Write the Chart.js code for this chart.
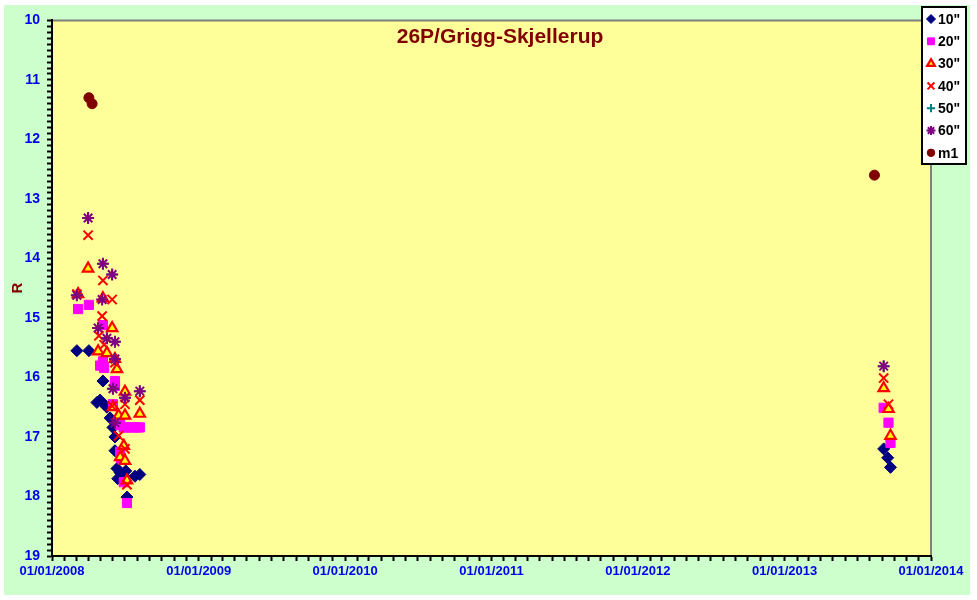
<!DOCTYPE html>
<html>
<head>
<meta charset="utf-8">
<script src="https://cdn.jsdelivr.net/npm/chart.js@4.4.0/dist/chart.umd.min.js"></script>
<style>
  html, body { margin: 0; padding: 0; background: #fff; }
  #wrap { position: absolute; left: 4px; top: 5px; width: 966px; height: 590px; background: #ccffcc; }
</style>
</head>
<body>
<div id="wrap"><canvas id="chart" width="966" height="590"></canvas></div>
<script>
// 資料（日期 / R 星等）
const d10 = ['2008-03-03','2008-04-02','2008-04-22','2008-04-30','2008-05-07','2008-05-10','2008-05-17','2008-05-25','2008-06-01','2008-06-06','2008-06-06','2008-06-11','2008-06-13','2008-06-19','2008-06-28','2008-07-03','2008-07-06','2008-07-26','2008-08-07','2013-09-05','2013-09-15','2013-09-22'];
const r10 = [15.55,15.55,16.42,16.38,16.06,16.45,16.50,16.68,16.84,17.00,17.23,17.53,17.70,17.60,17.65,17.57,18.01,17.66,17.63,17.20,17.35,17.51];

const d20 = ['2008-03-06','2008-04-02','2008-05-07','2008-04-30','2008-05-07','2008-05-10','2008-06-06','2008-06-06','2008-06-01','2008-06-19','2008-06-28','2008-07-08','2008-07-20','2008-07-31','2008-08-07','2008-06-19','2008-06-21','2008-06-28','2008-07-06','2013-09-05','2013-09-17','2013-09-22'];
const r20 = [14.85,14.78,15.12,15.80,15.73,15.84,16.06,16.14,16.45,16.80,16.84,16.84,16.84,16.84,16.84,17.25,17.36,17.76,18.11,16.51,16.76,17.10];

const d30 = ['2008-03-06','2008-03-31','2008-05-07','2008-05-30','2008-04-25','2008-05-17','2008-06-06','2008-06-11','2008-07-01','2008-06-01','2008-06-15','2008-07-01','2008-08-07','2008-06-28','2008-06-19','2008-07-01','2008-07-06','2013-09-05','2013-09-17','2013-09-22'];
const r30 = [14.60,14.17,14.67,15.17,15.56,15.59,15.69,15.86,16.24,16.50,16.64,16.64,16.61,17.15,17.34,17.40,17.73,16.18,16.53,16.98];

const d40 = ['2008-03-03','2008-03-31','2008-05-07','2008-05-30','2008-05-05','2008-04-27','2008-05-10','2008-06-06','2008-08-07','2008-07-01','2008-05-30','2008-06-15','2008-07-01','2008-07-06','2013-09-05','2013-09-17'];
const r40 = [14.60,13.61,14.37,14.69,14.97,15.30,15.45,15.75,16.38,16.45,16.48,16.98,17.20,17.80,16.01,16.45];

const d50 = ['2008-03-03','2008-03-31','2008-05-07','2008-05-30','2008-04-25','2008-05-17','2008-06-06','2008-06-01','2008-07-01','2008-08-07','2008-06-06','2013-09-05'];
const r50 = [14.62,13.32,14.09,14.27,15.17,15.34,15.40,16.19,16.34,16.23,16.76,15.81];

const d60 = ['2008-03-03','2008-03-31','2008-05-07','2008-05-30','2008-05-05','2008-04-25','2008-05-17','2008-06-06','2008-06-06','2008-06-01','2008-07-01','2008-08-07','2008-06-06','2013-09-05'];
const r60 = [14.62,13.32,14.09,14.27,14.69,15.17,15.34,15.40,15.69,16.19,16.34,16.23,16.76,15.81];

const dm1 = ['2008-04-02','2008-04-10','2013-08-13'];
const rm1 = [11.30,11.40,12.60];

const yTickValues = [10, 11, 12, 13, 14, 15, 16, 17, 18, 19];
const xStart = '2008-01-01';
const xEnd = '2014-01-01';

const pts = (dates, vals) => dates.map((d, i) => ({ x: Date.parse(d), y: vals[i] }));

const series = [
  { label: '10"', data: pts(d10, r10), pointStyle: 'rectRot', pointRadius: 6, backgroundColor: '#000080', borderColor: '#000080', borderWidth: 1 },
  { label: '20"', data: pts(d20, r20), pointStyle: 'rect', pointRadius: 6.5, backgroundColor: '#ff00ff', borderColor: '#ff00ff', borderWidth: 1 },
  { label: '30"', data: pts(d30, r30), pointStyle: 'triangle', pointRadius: 6, backgroundColor: '#ffff00', borderColor: '#ff0000', borderWidth: 2.2 },
  { label: '40"', data: pts(d40, r40), pointStyle: 'crossRot', pointRadius: 6.5, backgroundColor: '#ff0000', borderColor: '#ff0000', borderWidth: 2 },
  { label: '50"', data: pts(d50, r50), pointStyle: 'cross', pointRadius: 5.5, backgroundColor: '#008080', borderColor: '#008080', borderWidth: 2 },
  { label: '60"', data: pts(d60, r60), pointStyle: 'star', pointRadius: 6, backgroundColor: '#800080', borderColor: '#800080', borderWidth: 2 },
  { label: 'm1', data: pts(dm1, rm1), pointStyle: 'circle', pointRadius: 5, backgroundColor: '#800000', borderColor: '#800000', borderWidth: 1 }
];
// Excel 疊放順序：後面的系列畫在上面
series.forEach((s, i) => {
  s.order = series.length - 1 - i;
  s.pointHoverRadius = s.pointRadius;
  s.showLine = false;
});

// 月份小刻度
const monthTicks = [];
for (let y = 2008; y <= 2014; y++) {
  for (let m = 0; m < 12; m++) {
    if (y === 2014 && m > 0) break;
    monthTicks.push({ value: Date.UTC(y, m, 1) });
  }
}
const yMinor = [];
for (let i = 0; i <= 90; i++) yMinor.push({ value: Math.round((10 + i / 10) * 10) / 10 });

const decor = {
  id: 'decor',
  beforeDraw(chart) {
    const { ctx, chartArea: a } = chart;
    ctx.save();
    ctx.fillStyle = '#ffff99';
    ctx.fillRect(a.left, a.top, a.right - a.left, a.bottom - a.top);
    ctx.strokeStyle = '#808080';
    ctx.lineWidth = 2;
    ctx.beginPath();
    ctx.moveTo(a.left, a.top);
    ctx.lineTo(a.right, a.top);
    ctx.lineTo(a.right, a.bottom);
    ctx.stroke();
    ctx.restore();
  },
  afterDraw(chart) {
    const { ctx } = chart;
    ctx.save();
    // 標題
    ctx.fillStyle = '#800000';
    ctx.font = 'bold 21px Arial, "Liberation Sans", sans-serif';
    ctx.textAlign = 'center';
    ctx.textBaseline = 'middle';
    ctx.fillText('26P/Grigg-Skjellerup', 496, 32);

    // 圖例
    const x0 = 918, y0 = 2, w = 44, h = 157;
    ctx.fillStyle = '#ffffff';
    ctx.fillRect(x0, y0, w, h);
    ctx.strokeStyle = '#000000';
    ctx.lineWidth = 2;
    ctx.strokeRect(x0, y0, w, h);
    ctx.textAlign = 'left';
    ctx.font = 'bold 14px Arial, "Liberation Sans", sans-serif';
    chart.data.datasets.forEach((ds, i) => {
      const y = y0 + 12 + i * 22.3;
      ctx.fillStyle = ds.backgroundColor;
      ctx.strokeStyle = ds.borderColor;
      ctx.lineWidth = ds.borderWidth;
      Chart.helpers.drawPoint(ctx, {
        pointStyle: ds.pointStyle,
        radius: ds.pointRadius * 0.75,
        borderWidth: ds.borderWidth,
        rotation: 0
      }, x0 + 9, y);
      ctx.fillStyle = '#000000';
      ctx.fillText(ds.label, x0 + 16, y + 1);
    });
    ctx.restore();
  }
};

new Chart(document.getElementById('chart'), {
  type: 'scatter',
  data: { datasets: series },
  plugins: [decor],
  options: {
    responsive: false,
    animation: false,
    layout: { padding: { top: 12, right: 39, left: 0, bottom: 0 } },
    plugins: {
      legend: { display: false },
      tooltip: { enabled: false }
    },
    scales: {
      x: {
        type: 'linear',
        min: Date.parse(xStart),
        max: Date.parse(xEnd),
        afterBuildTicks: (scale) => { scale.ticks = monthTicks.slice(); },
        afterFit: (scale) => { scale.height = 39; },
        border: { display: true, color: '#000000', width: 2 },
        grid: { drawOnChartArea: false, drawTicks: true, tickLength: 5, tickColor: '#000000', tickWidth: 2 },
        ticks: {
          autoSkip: false,
          maxRotation: 0,
          padding: 3,
          color: '#0000ee',
          font: { family: 'Arial, "Liberation Sans", sans-serif', size: 13, weight: 'bold' },
          callback: (v) => {
            const d = new Date(v);
            return d.getUTCMonth() === 0 ? '01/01/' + d.getUTCFullYear() : '';
          }
        }
      },
      y: {
        min: 10,
        max: 19,
        reverse: true,
        afterBuildTicks: (scale) => { scale.ticks = yMinor.slice(); },
        afterFit: (scale) => { scale.width = 48; },
        border: { display: true, color: '#000000', width: 2 },
        grid: { drawOnChartArea: false, drawTicks: true, tickLength: 5, tickColor: '#000000', tickWidth: 2 },
        title: {
          display: true,
          text: 'R',
          color: '#800000',
          padding: { top: 5, bottom: 0 },
          font: { family: 'Arial, "Liberation Sans", sans-serif', size: 15, weight: 'bold' }
        },
        ticks: {
          autoSkip: false,
          padding: 7,
          color: '#0000ee',
          font: { family: 'Arial, "Liberation Sans", sans-serif', size: 14, weight: 'bold' },
          callback: (v) => yTickValues.includes(v) ? String(v) : ''
        }
      }
    }
  }
});
</script>
</body>
</html>
